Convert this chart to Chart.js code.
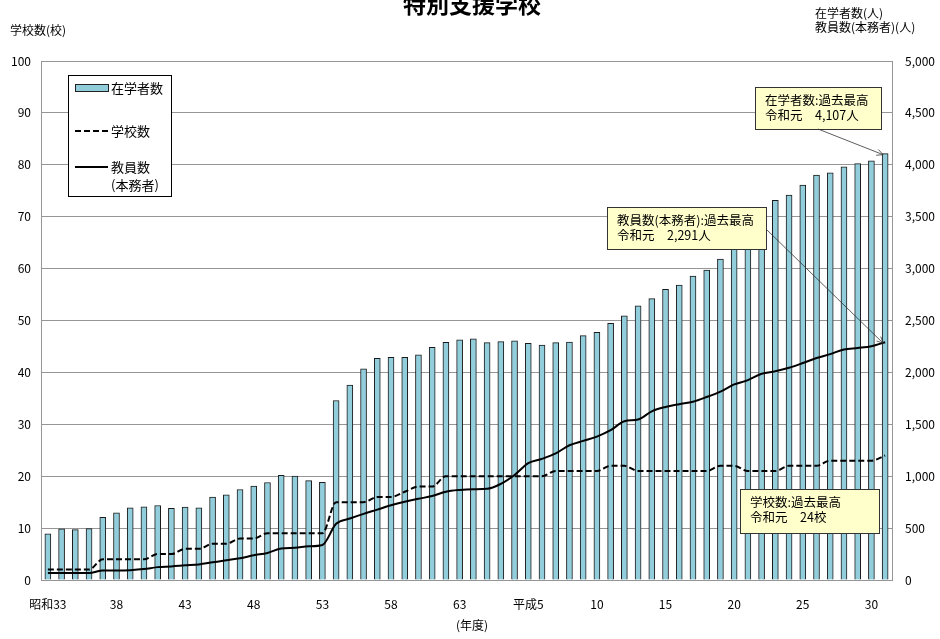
<!DOCTYPE html>
<html lang="ja">
<head>
<meta charset="UTF-8">
<title>特別支援学校</title>
<script src="https://cdn.jsdelivr.net/npm/chart.js@4/dist/chart.umd.min.js"></script>
<style>
    html, body { margin: 0; padding: 0; background: #fff; }
    #wrap { width: 940px; height: 639px; }
</style>
</head>
<body>
<div id="wrap"><canvas id="chart" width="940" height="639"></canvas></div>
<script>
// Годы (категории)
const years = [
    '昭和33', '昭和34', '昭和35', '昭和36', '昭和37', '昭和38', '昭和39', '昭和40', '昭和41', '昭和42',
    '昭和43', '昭和44', '昭和45', '昭和46', '昭和47', '昭和48', '昭和49', '昭和50', '昭和51', '昭和52',
    '昭和53', '昭和54', '昭和55', '昭和56', '昭和57', '昭和58', '昭和59', '昭和60', '昭和61', '昭和62',
    '昭和63', '平成元', '平成2', '平成3', '平成4', '平成5', '平成6', '平成7', '平成8', '平成9',
    '平成10', '平成11', '平成12', '平成13', '平成14', '平成15', '平成16', '平成17', '平成18', '平成19',
    '平成20', '平成21', '平成22', '平成23', '平成24', '平成25', '平成26', '平成27', '平成28', '平成29',
    '平成30', '令和元'
];

// Подписи оси X (каждые 5 лет)
const tickLabels = ['昭和33', '38', '43', '48', '53', '58', '63', '平成5', '10', '15', '20', '25', '30'];

// 在学者数 (чел.)
const students = [
    445, 493, 486, 495, 603, 648, 696, 705, 718, 690,
    703, 696, 800, 821, 872, 904, 939, 1008, 1002, 957,
    940, 1729, 1877, 2035, 2135, 2145, 2145, 2169, 2242, 2290,
    2314, 2324, 2287, 2297, 2304, 2280, 2262, 2287, 2293, 2355,
    2386, 2472, 2545, 2641, 2710, 2800, 2841, 2927, 2985, 3092,
    3230, 3370, 3510, 3657, 3709, 3805, 3902, 3922, 3981, 4012,
    4039, 4107
];

// 学校数 (校)
const schools = [
    2, 2, 2, 2, 4, 4, 4, 4, 5, 5,
    6, 6, 7, 7, 8, 8, 9, 9, 9, 9,
    9, 15, 15, 15, 16, 16, 17, 18, 18, 20,
    20, 20, 20, 20, 20, 20, 20, 21, 21, 21,
    21, 22, 22, 21, 21, 21, 21, 21, 21, 22,
    22, 21, 21, 21, 22, 22, 22, 23, 23, 23,
    23, 24
];

// 教員数(本務者) (чел.)
const teachers = [
    68, 68, 68, 68, 92, 92, 95, 105, 124, 131,
    141, 150, 170, 190, 209, 239, 261, 304, 310, 324,
    337, 541, 592, 637, 678, 720, 754, 782, 809, 851,
    868, 875, 878, 926, 1012, 1126, 1167, 1219, 1298, 1340,
    1381, 1443, 1529, 1546, 1625, 1667, 1694, 1718, 1763, 1815,
    1884, 1925, 1987, 2011, 2045, 2090, 2138, 2176, 2221, 2235,
    2252, 2291
];

const FONT = '"Noto Sans CJK JP", "Noto Sans", sans-serif';
const BAR_COLOR = '#92CDDC';
const GRID_COLOR = '#969696';

// Выноски с подписями
const notes = [
    { x: 755, y: 87, w: 126, h: 42, lines: ['在学者数:過去最高', '令和元　4,107人'], target: { ds: 'students', idx: 61 }, from: [818, 129] },
    { x: 607, y: 207, w: 159, h: 42, lines: ['教員数(本務者):過去最高', '令和元　2,291人'], target: { ds: 'teachers', idx: 61 }, from: [766, 229] },
    { x: 740, y: 489, w: 139, h: 44, lines: ['学校数:過去最高', '令和元　24校'] }
];

// Функция для рисования стрелки
function drawArrow(c, x1, y1, x2, y2) {
    c.beginPath();
    c.moveTo(x1, y1);
    c.lineTo(x2, y2);
    c.stroke();
    const a = Math.atan2(y2 - y1, x2 - x1);
    const len = 7;
    c.beginPath();
    c.moveTo(x2 - len * Math.cos(a - 0.45), y2 - len * Math.sin(a - 0.45));
    c.lineTo(x2, y2);
    c.lineTo(x2 - len * Math.cos(a + 0.45), y2 - len * Math.sin(a + 0.45));
    c.stroke();
}

// Плагин: заголовки, легенда и выноски
const extrasPlugin = {
    id: 'extras',
    afterDraw(chart) {
        const c = chart.ctx;
        const xs = chart.scales.x;
        const yr = chart.scales.yRight;
        c.save();
        c.fillStyle = '#000';

        // Заголовок
        c.font = 'bold 23px ' + FONT;
        c.textAlign = 'center';
        c.textBaseline = 'middle';
        c.fillText('特別支援学校', 472, 4);

        // Подписи осей
        c.font = '12px ' + FONT;
        c.textAlign = 'left';
        c.fillText('学校数(校)', 10, 30);
        c.fillText('在学者数(人)', 815, 13);
        c.fillText('教員数(本務者)(人)', 815, 27);
        c.textAlign = 'center';
        c.fillText('(年度)', 472, 625);

        // Легенда
        c.fillStyle = '#fff';
        c.fillRect(68, 75, 103, 121);
        c.strokeStyle = '#000';
        c.lineWidth = 1;
        c.strokeRect(68.5, 75.5, 103, 121);
        c.fillStyle = BAR_COLOR;
        c.fillRect(75, 84, 33, 7);
        c.strokeStyle = '#222';
        c.strokeRect(75.5, 84.5, 33, 7);
        c.strokeStyle = '#000';
        c.lineWidth = 2;
        c.setLineDash([6, 3]);
        c.beginPath();
        c.moveTo(75, 131);
        c.lineTo(108, 131);
        c.stroke();
        c.setLineDash([]);
        c.beginPath();
        c.moveTo(75, 167);
        c.lineTo(108, 167);
        c.stroke();
        c.fillStyle = '#000';
        c.font = '13px ' + FONT;
        c.textAlign = 'left';
        c.fillText('在学者数', 111, 88);
        c.fillText('学校数', 111, 131);
        c.fillText('教員数', 111, 167);
        c.fillText('(本務者)', 111, 185);

        // Выноски
        c.font = '12.5px ' + FONT;
        notes.forEach(n => {
            c.fillStyle = '#FFFFCC';
            c.fillRect(n.x, n.y, n.w, n.h);
            c.strokeStyle = '#333';
            c.lineWidth = 1;
            c.strokeRect(n.x + 0.5, n.y + 0.5, n.w, n.h);
            c.fillStyle = '#000';
            c.fillText(n.lines[0], n.x + 10, n.y + 13);
            c.fillText(n.lines[1], n.x + 10, n.y + 28);
            if (n.target) {
                const vals = n.target.ds === 'students' ? students : teachers;
                const tx = xs.getPixelForValue(n.target.idx) - 2;
                const ty = yr.getPixelForValue(vals[n.target.idx]) + 1;
                c.lineWidth = 0.8;
                drawArrow(c, n.from[0], n.from[1], tx, ty);
            }
        });
        c.restore();
    }
};

document.addEventListener('DOMContentLoaded', function() {
    const ctx = document.getElementById('chart');
    const tickFont = { family: FONT, size: 12 };

    new Chart(ctx, {
        data: {
            labels: years,
            datasets: [
                {
                    type: 'line',
                    label: '教員数(本務者)',
                    data: teachers,
                    yAxisID: 'yRight',
                    borderColor: '#000',
                    borderWidth: 2,
                    pointRadius: 0,
                    cubicInterpolationMode: 'monotone',
                    order: 1
                },
                {
                    type: 'line',
                    label: '学校数',
                    data: schools,
                    yAxisID: 'yLeft',
                    borderColor: '#000',
                    borderWidth: 2,
                    borderDash: [6, 3],
                    pointRadius: 0,
                    cubicInterpolationMode: 'monotone',
                    order: 2
                },
                {
                    type: 'bar',
                    label: '在学者数',
                    data: students,
                    yAxisID: 'yRight',
                    backgroundColor: BAR_COLOR,
                    borderColor: '#1a1a1a',
                    borderWidth: 1,
                    barThickness: 6,
                    order: 3
                }
            ]
        },
        options: {
            responsive: false,
            animation: false,
            layout: { padding: { top: 61, left: 0, right: 0, bottom: 0 } },
            plugins: {
                legend: { display: false },
                tooltip: { enabled: false }
            },
            scales: {
                x: {
                    grid: { display: false },
                    border: { display: true, color: GRID_COLOR },
                    ticks: {
                        autoSkip: false,
                        maxRotation: 0,
                        padding: 9,
                        color: '#000',
                        font: tickFont,
                        callback: (v, i) => (i % 5 === 0 ? tickLabels[i / 5] : '')
                    },
                    afterFit: s => { s.height = 59; }
                },
                yLeft: {
                    position: 'left',
                    min: 0,
                    max: 100,
                    grid: { color: GRID_COLOR, drawTicks: false },
                    border: { display: true, color: GRID_COLOR },
                    ticks: { stepSize: 10, padding: 10, color: '#000', font: tickFont },
                    afterFit: s => { s.width = 41; }
                },
                yRight: {
                    position: 'right',
                    min: 0,
                    max: 5000,
                    grid: { drawOnChartArea: false, drawTicks: false },
                    border: { display: true, color: GRID_COLOR },
                    ticks: {
                        stepSize: 500,
                        padding: 13,
                        color: '#000',
                        font: tickFont,
                        callback: v => v.toLocaleString('en-US')
                    },
                    afterFit: s => { s.width = 48; }
                }
            }
        },
        plugins: [extrasPlugin]
    });
});
</script>
</body>
</html>
